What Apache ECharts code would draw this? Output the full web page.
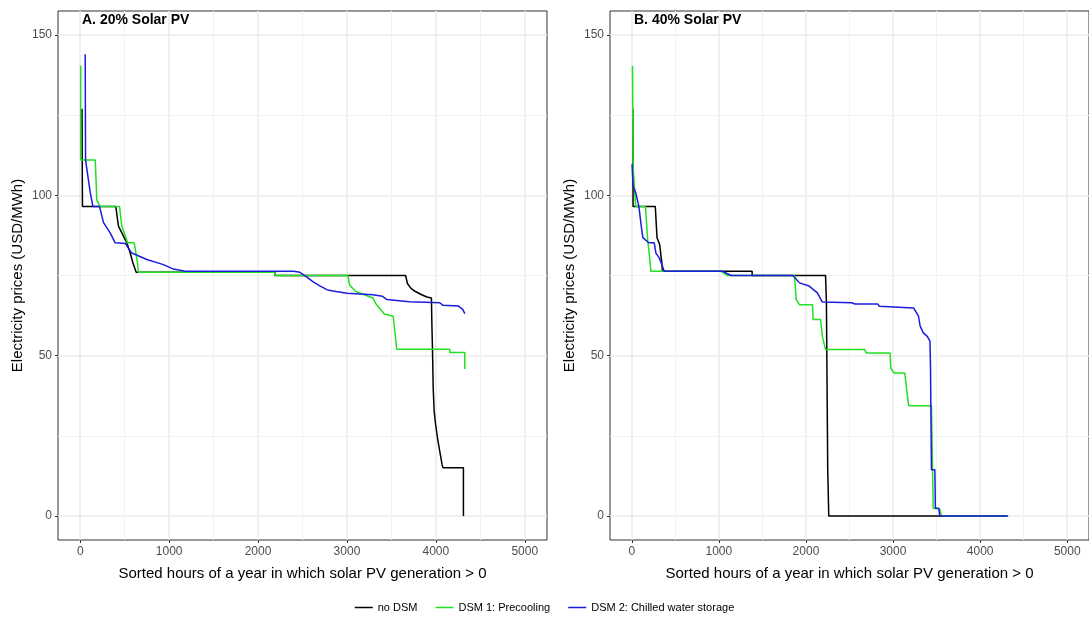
<!DOCTYPE html>
<html>
<head>
<meta charset="utf-8">
<script src="https://cdn.jsdelivr.net/npm/echarts@6/dist/echarts.min.js"></script>
<style>
  html, body { margin: 0; padding: 0; background: #fff; }
  #chart { width: 1089px; height: 619px; }
</style>
</head>
<body>
<div id="chart"></div>
<script>
// series names and panel titles
const seriesNames = ['no DSM', 'DSM 1: Precooling', 'DSM 2: Chilled water storage']
const panelTitles = ['A. 20% Solar PV', 'B. 40% Solar PV']

// [sorted hour, price USD/MWh]
const a_noDSM = [
  [20, 127], [25, 96.5], [400, 96.5], [430, 90.4], [468, 88.3], [524, 85.2], [562, 82], [592, 79],
  [629, 76], [2190, 76], [2190, 75], [3660, 75], [3680, 72.5], [3720, 71], [3770, 70], [3840, 69],
  [3900, 68.3], [3950, 68], [3955, 60], [3962, 52], [3970, 40], [3980, 33], [3995, 29], [4020, 24],
  [4045, 20], [4070, 16], [4080, 15], [4310, 15], [4310, 0]
]
const a_precool = [
  [5, 140.5], [5, 111], [169, 111], [187, 98.4], [225, 96.5], [442, 96.5], [468, 90.4], [524, 86],
  [530, 85.2], [607, 85.2], [644, 79], [655, 76], [2190, 76], [2190, 75], [3010, 75], [3030, 72],
  [3100, 70], [3290, 68], [3330, 66], [3420, 63], [3520, 62.3], [3560, 52], [4157, 52], [4157, 51],
  [4325, 51], [4325, 45.8]
]
const a_storage = [
  [56, 144], [60, 111], [112, 101], [143, 96.5], [217, 96.5], [262, 91.5], [337, 88.3], [393, 85.2],
  [506, 85], [580, 82], [749, 80], [936, 78.4], [1049, 77], [1180, 76.3], [2400, 76.3], [2470, 76],
  [2550, 74.5], [2620, 73], [2700, 71.7], [2780, 70.5], [2880, 70], [3000, 69.5], [3290, 69],
  [3400, 68.5], [3450, 67.5], [3700, 66.8], [4045, 66.5], [4080, 65.7], [4250, 65.5], [4300, 64.5],
  [4326, 63.1]
]

const b_noDSM = [
  [12, 127], [15, 96.5], [270, 96.5], [290, 86.8], [320, 84.7], [345, 79], [352, 76.3], [1382, 76.3],
  [1382, 75], [2225, 75], [2235, 66.5], [2250, 14.4], [2262, 0], [4310, 0]
]
const b_precool = [
  [8, 140.4], [15, 109], [34, 109], [45, 96.5], [157, 96.5], [183, 86], [200, 82], [220, 76.3],
  [1025, 76.3], [1100, 75], [1868, 75], [1888, 67.5], [1925, 65.9], [2075, 65.9], [2082, 61.25],
  [2169, 61.25], [2188, 56], [2225, 51.9], [2674, 51.9], [2693, 50.8], [2966, 50.8], [2974, 46.1],
  [3011, 44.6], [3135, 44.6], [3161, 38.3], [3180, 34.4], [3441, 34.4], [3461, 2.4], [3536, 2.2],
  [3554, 0], [4310, 0]
]
const b_storage = [
  [3, 109.7], [15, 103], [45, 100.8], [82, 96.5], [98, 96.5], [109, 90.4], [127, 86.8], [195, 85.2],
  [258, 85.2], [277, 82], [315, 80.5], [352, 78], [371, 76.3], [1045, 76.3], [1140, 75], [1851, 75],
  [1925, 72.7], [2037, 71.7], [2131, 69.6], [2188, 66.7], [2525, 66.5], [2562, 66.1], [2824, 66.1],
  [2843, 65.4], [3236, 64.9], [3292, 62.3], [3311, 59.2], [3348, 57.1], [3393, 56], [3424, 54.5],
  [3430, 46.7], [3441, 14.4], [3480, 14.4], [3486, 2.4], [3525, 2.4], [3536, 0], [4322, 0]
]

// minor grid lines (ggplot style)
const minorX = [500, 1500, 2500, 3500, 4500]
const minorY = [25, 75, 125]

const colors = ['#000000', '#22E022', '#1C1CE0']
const panels = [[a_noDSM, a_precool, a_storage], [b_noDSM, b_precool, b_storage]]
const gridLeft = [58, 610]

const chart = echarts.init(document.getElementById('chart'))

const grid = gridLeft.map(l => ({
  left: l, top: 11, width: 489, height: 529,
  show: true, borderColor: '#333', borderWidth: 1, backgroundColor: '#fff'
}))

const xAxis = gridLeft.map((l, i) => ({
  type: 'value', gridIndex: i, min: -250, max: 5250, splitNumber: 5,
  name: 'Sorted hours of a year in which solar PV generation > 0',
  nameLocation: 'middle', nameGap: 26,
  nameTextStyle: { color: '#000', fontSize: 15, fontFamily: 'Liberation Sans' },
  axisLine: { show: false, onZero: false },
  axisTick: { show: true, length: 3, lineStyle: { color: '#333' } },
  axisLabel: { color: '#4D4D4D', fontSize: 12, margin: 6, fontFamily: 'Liberation Sans',
    showMinLabel: false, showMaxLabel: false, formatter: v => String(v) },
  splitLine: { showMinLine: false, showMaxLine: false, lineStyle: { color: '#EBEBEB', width: 1.5 } }
}))

const yAxis = gridLeft.map((l, i) => ({
  type: 'value', gridIndex: i, min: -7.5, max: 157.5, splitNumber: 3,
  name: 'Electricity prices (USD/MWh)',
  nameLocation: 'middle', nameGap: 33,
  nameTextStyle: { color: '#000', fontSize: 15, fontFamily: 'Liberation Sans' },
  axisLine: { show: false, onZero: false },
  axisTick: { show: true, length: 3, lineStyle: { color: '#333' } },
  axisLabel: { color: '#4D4D4D', fontSize: 12, margin: 6, fontFamily: 'Liberation Sans',
    showMinLabel: false, showMaxLabel: false, formatter: v => String(v) },
  splitLine: { showMinLine: false, showMaxLine: false, lineStyle: { color: '#EBEBEB', width: 1.5 } }
}))

const series = []
panels.forEach((curves, p) => {
  curves.forEach((data, k) => {
    series.push({
      name: seriesNames[k],
      type: 'line',
      xAxisIndex: p, yAxisIndex: p,
      data: data,
      showSymbol: false,
      z: 3,
      lineStyle: { color: colors[k], width: 1.5 },
      itemStyle: { color: colors[k] },
      markLine: k === 0 ? {
        silent: true, symbol: 'none', z: 1,
        label: { show: false },
        lineStyle: { color: '#F2F2F2', width: 1, type: 'solid' },
        data: minorX.map(v => ({ xAxis: v })).concat(minorY.map(v => ({ yAxis: v })))
      } : undefined
    })
  })
})

chart.setOption({
  animation: false,
  textStyle: { fontFamily: 'Liberation Sans' },
  title: panelTitles.map((t, i) => ({
    text: t, left: gridLeft[i] + 24, top: 13, padding: 0,
    textStyle: { fontSize: 14, fontWeight: 'bold', color: '#000', fontFamily: 'Liberation Sans' }
  })),
  legend: {
    data: seriesNames,
    bottom: 1, left: 'center',
    icon: 'rect', itemWidth: 18, itemHeight: 1.5, itemGap: 18,
    textStyle: { fontSize: 11, color: '#000', fontFamily: 'Liberation Sans' }
  },
  grid: grid,
  xAxis: xAxis,
  yAxis: yAxis,
  series: series
})
</script>
</body>
</html>
